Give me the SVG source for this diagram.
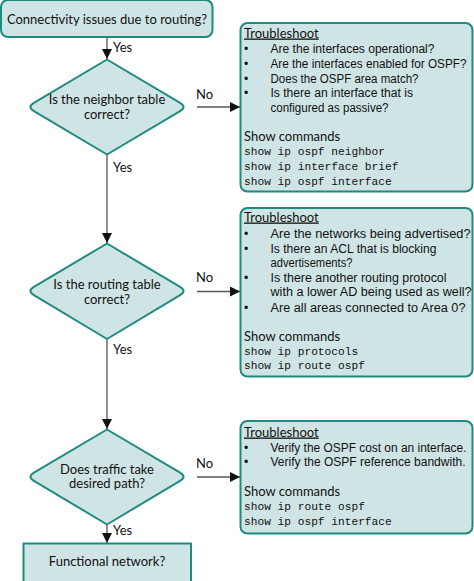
<svg xmlns="http://www.w3.org/2000/svg" width="474" height="581" viewBox="0 0 474 581">
<defs>
<style>
.shape{fill:#cfe5e5;stroke:#1f8a7e;stroke-width:2;stroke-linejoin:round}
.lbl{font-family:Lato,"Open Sans",sans-serif;font-size:13px;fill:#111;text-anchor:middle}
.yn{font-family:Lato,"Open Sans",sans-serif;font-size:13px;fill:#111}
.hd{font-family:Lato,"Open Sans",sans-serif;font-size:13px;fill:#111}
.bl{font-family:"Liberation Sans",Arial,sans-serif;font-size:12.3px;fill:#111}
.mono{font-family:"Liberation Mono","DejaVu Sans Mono",monospace;font-size:11.2px;fill:#111}
.line{stroke:#555;stroke-width:1.3;fill:none;marker-end:url(#ah)}
</style>
<marker id="ah" viewBox="0 0 10 10" refX="10" refY="5" markerWidth="10" markerHeight="10" markerUnits="userSpaceOnUse" orient="auto">
<path d="M0,0 L10,5 L0,10 Z" fill="#111"/>
</marker>
</defs>
<g id="connectors">
<line class="line" x1="107" y1="37" x2="107" y2="59"/>
<text class="yn" x="113" y="52">Yes</text>
<line class="line" x1="197" y1="107" x2="240" y2="107"/>
<text class="yn" x="196" y="99">No</text>
<line class="line" x1="107" y1="155" x2="107" y2="243"/>
<text class="yn" x="113" y="172">Yes</text>
<line class="line" x1="197" y1="291.5" x2="240" y2="291.5"/>
<text class="yn" x="196" y="282">No</text>
<line class="line" x1="107" y1="339" x2="107" y2="429"/>
<text class="yn" x="113" y="354">Yes</text>
<line class="line" x1="197" y1="477" x2="240" y2="477"/>
<text class="yn" x="196" y="468">No</text>
<line class="line" x1="107" y1="525" x2="107" y2="543"/>
<text class="yn" x="113" y="534.5">Yes</text>
</g>
<g id="start">
<rect class="shape" x="1" y="0" width="211.5" height="37" rx="7"/>
<text class="lbl" x="107" y="23.5">Connectivity issues due to routing?</text>
</g>
<g id="decision-neighbor">
<path class="shape" d="M107,59.5 L180.1,102.9 Q187,107 180.1,111.1 L107,154.5 L33.9,111.1 Q27,107 33.9,102.9 Z"/>
<text class="lbl" x="107" y="104">Is the neighbor table</text>
<text class="lbl" x="107" y="118.5">correct?</text>
</g>
<g id="decision-routing">
<path class="shape" d="M107,243.5 L180.1,286.9 Q187,291 180.1,295.1 L107,339 L33.9,295.1 Q27,291 33.9,286.9 Z"/>
<text class="lbl" x="107" y="288.5">Is the routing table</text>
<text class="lbl" x="107" y="303.5">correct?</text>
</g>
<g id="decision-path">
<path class="shape" d="M107,429.5 L180.1,472.6 Q187,476.7 180.1,480.8 L107,524.5 L33.9,480.8 Q27,476.7 33.9,472.6 Z"/>
<text class="lbl" x="107" y="473.5">Does traffic take</text>
<text class="lbl" x="107" y="488">desired path?</text>
</g>
<g id="end">
<rect class="shape" x="23.5" y="543.5" width="167.5" height="45"/>
<text class="lbl" x="107" y="566">Functional network?</text>
</g>
<g id="box-neighbor">
<rect class="shape" x="240.5" y="23" width="232" height="168.5" rx="7"/>
<text class="hd" x="244" y="37.5" text-decoration="underline">Troubleshoot</text>
<text class="bl" x="244" y="52.5">•</text><text class="bl" x="270.5" y="52.5" textLength="164" lengthAdjust="spacingAndGlyphs">Are the interfaces operational?</text>
<text class="bl" x="244" y="67.5">•</text><text class="bl" x="270.5" y="67.5" textLength="196" lengthAdjust="spacingAndGlyphs">Are the interfaces enabled for OSPF?</text>
<text class="bl" x="244" y="82.5">•</text><text class="bl" x="270.5" y="82.5" textLength="148" lengthAdjust="spacingAndGlyphs">Does the OSPF area match?</text>
<text class="bl" x="244" y="97">•</text><text class="bl" x="270.5" y="97" textLength="142.5" lengthAdjust="spacingAndGlyphs">Is there an interface that is</text>
<text class="bl" x="270.5" y="111.5" textLength="118" lengthAdjust="spacingAndGlyphs">configured as passive?</text>
<text class="hd" x="244" y="141">Show commands</text>
<text class="mono" x="244" y="155">show ip ospf neighbor</text>
<text class="mono" x="244" y="170">show ip interface brief</text>
<text class="mono" x="244" y="185">show ip ospf interface</text>
</g>
<g id="box-routing">
<rect class="shape" x="240.5" y="208" width="232" height="168.5" rx="7"/>
<text class="hd" x="244" y="221.5" text-decoration="underline">Troubleshoot</text>
<text class="bl" x="244" y="237.5">•</text><text class="bl" x="270.5" y="237.5" textLength="200" lengthAdjust="spacingAndGlyphs">Are the networks being advertised?</text>
<text class="bl" x="244" y="252.5">•</text><text class="bl" x="270.5" y="252.5" textLength="166" lengthAdjust="spacingAndGlyphs">Is there an ACL that is blocking</text>
<text class="bl" x="270.5" y="266.5" textLength="82" lengthAdjust="spacingAndGlyphs">advertisements?</text>
<text class="bl" x="244" y="281.5">•</text><text class="bl" x="270.5" y="281.5" textLength="176" lengthAdjust="spacingAndGlyphs">Is there another routing protocol</text>
<text class="bl" x="270.5" y="296" textLength="201" lengthAdjust="spacingAndGlyphs">with a lower AD being used as well?</text>
<text class="bl" x="244" y="311.5">•</text><text class="bl" x="270.5" y="311.5" textLength="195" lengthAdjust="spacingAndGlyphs">Are all areas connected to Area 0?</text>
<text class="hd" x="244" y="341">Show commands</text>
<text class="mono" x="244" y="354.5">show ip protocols</text>
<text class="mono" x="244" y="369">show ip route ospf</text>
</g>
<g id="box-path">
<rect class="shape" x="240.5" y="421" width="232" height="112.5" rx="7"/>
<text class="hd" x="244" y="436.5" text-decoration="underline">Troubleshoot</text>
<text class="bl" x="244" y="451.5">•</text><text class="bl" x="270.5" y="451.5" textLength="196" lengthAdjust="spacingAndGlyphs">Verify the OSPF cost on an interface.</text>
<text class="bl" x="244" y="466">•</text><text class="bl" x="270.5" y="466" textLength="195" lengthAdjust="spacingAndGlyphs">Verify the OSPF reference bandwith.</text>
<text class="hd" x="244" y="495.5">Show commands</text>
<text class="mono" x="244" y="510">show ip route ospf</text>
<text class="mono" x="244" y="524.5">show ip ospf interface</text>
</g>
</svg>
